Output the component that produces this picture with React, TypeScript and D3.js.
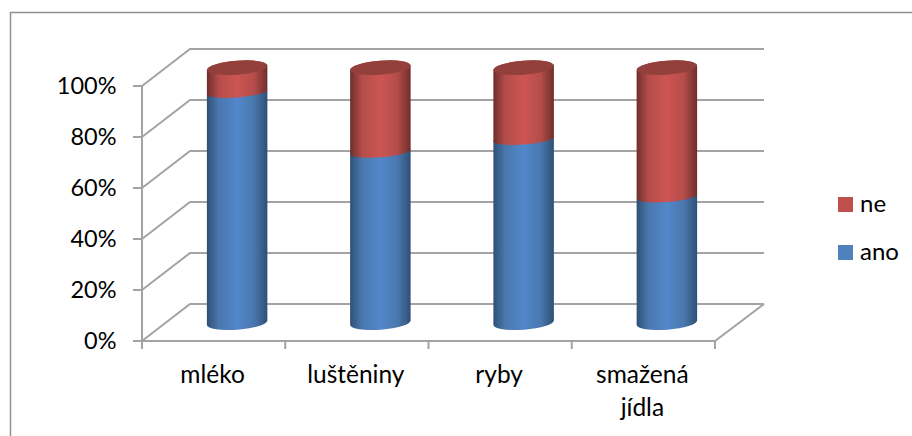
import React from "react";
import * as d3 from "d3";

const categories: string[][] = [["mléko"], ["luštěniny"], ["ryby"], ["smažená", "jídla"]];
const ano = [90.5, 67, 72, 49.5];
const ne = [9.5, 33, 28, 50.5];
const ticks = [0, 20, 40, 60, 80, 100];
const legend = [
  { name: "ne", color: "#c0504d", top: 197, baseline: 212 },
  { name: "ano", color: "#4f81bd", top: 245, baseline: 260 },
];

const x0 = 142;
const plotW = 573;
const depthX = 48;
const depthY = 37;
const font = "Lato, Carlito, Calibri, sans-serif";

const y = d3.scaleLinear().domain([0, 100]).range([341, 86]);
const x = d3.scaleBand<number>().domain(d3.range(4)).range([x0, x0 + plotW]);

// Cylinder geometry in the projected plot: the ellipses lean up to the right
// and open a little wider at the base and the top than at the series boundary.
const cylW = 60.5;
const endRy = 7;
const joinRy = 5.5;
const lean = 4.6;
const tilt = (-Math.atan(lean / cylW) * 180) / Math.PI;
const floorLift = 16;
const depthShift = 23.5;

function Cylinder({ i }: { i: number }) {
  const cx = x(i)! + x.bandwidth() / 2 + depthShift;
  const l = cx - cylW / 2;
  const r = cx + cylW / 2;
  const base = y(0) - floorLift;
  const mid = y(ano[i]) - floorLift;
  const top = y(ano[i] + ne[i]) - floorLift;
  const arc = (ry: number) => `A${cylW / 2} ${ry} ${tilt} 0 0`;
  const seg = (a: number, lowRy: number, b: number, highRy: number) =>
    `M${l} ${a} ${arc(lowRy)} ${r} ${a - lean} L${r} ${b - lean} ${arc(highRy)} ${l} ${b} Z`;
  return (
    <g>
      <path d={seg(base, endRy, mid, joinRy)} fill="url(#cyl-blue)" />
      <path d={seg(mid, joinRy, top, endRy)} fill="url(#cyl-red)" />
      <ellipse
        cx={cx}
        cy={top - lean / 2}
        rx={cylW / 2}
        ry={endRy}
        transform={`rotate(${tilt} ${cx} ${top - lean / 2})`}
        fill="#93403d"
      />
    </g>
  );
}

function Gradient({ id, edge, light, mid }: { id: string; edge: string; light: string; mid: string }) {
  return (
    <linearGradient id={id} x1="0" x2="1" y1="0" y2="0">
      <stop offset="0" stopColor={edge} />
      <stop offset="0.2" stopColor={mid} />
      <stop offset="0.5" stopColor={light} />
      <stop offset="0.78" stopColor={mid} />
      <stop offset="1" stopColor={edge} />
    </linearGradient>
  );
}

export default function App() {
  return (
    <svg
      width={912}
      height={436}
      style={{ position: "absolute", left: 0, top: 0, background: "#fff" }}
      fontFamily={font}
    >
      <defs>
        <Gradient id="cyl-blue" edge="#2f5075" mid="#4a78ae" light="#5287ca" />
        <Gradient id="cyl-red" edge="#6f2e2c" mid="#b54d4a" light="#cc5552" />
      </defs>
      <path d="M10.5 436 V12.5 H912" fill="none" stroke="#8f8f8f" strokeWidth={1.5} />
      <g stroke="#a3a3a3" strokeWidth={2} fill="none">
        {ticks.map((t) => (
          <g key={t}>
            <path d={`M${x0} ${y(t)} L${x0 + depthX} ${y(t) - depthY} H${x0 + plotW + depthX + 1}`} />
            <path d={`M${x0 - 9} ${y(t)} H${x0}`} />
          </g>
        ))}
        <path d={`M${x0} ${y(100)} V${y(0)} H${x0 + plotW} L${x0 + plotW + depthX + 1} ${y(0) - depthY}`} />
        {d3.range(5).map((i) => (
          <path key={i} d={`M${x0 + (i * plotW) / 4} ${y(0)} v8`} />
        ))}
      </g>
      {categories.map((_, i) => (
        <Cylinder key={i} i={i} />
      ))}
      <g fill="#000">
        {ticks.map((t) => (
          <text key={t} x={116.5} y={y(t) + 8} fontSize={23.5} textAnchor="end">{`${t}%`}</text>
        ))}
        {categories.map((lines, i) =>
          lines.map((line, k) => (
            <text key={line} x={x(i)! + x.bandwidth() / 2 - 1} y={383 + k * 33} fontSize={24.5} textAnchor="middle">
              {line}
            </text>
          )),
        )}
      </g>
      {legend.map((d) => (
        <g key={d.name}>
          <rect x={838} y={d.top} width={15} height={15} fill={d.color} />
          <text x={860} y={d.baseline} fontSize={24} fill="#000">
            {d.name}
          </text>
        </g>
      ))}
    </svg>
  );
}
